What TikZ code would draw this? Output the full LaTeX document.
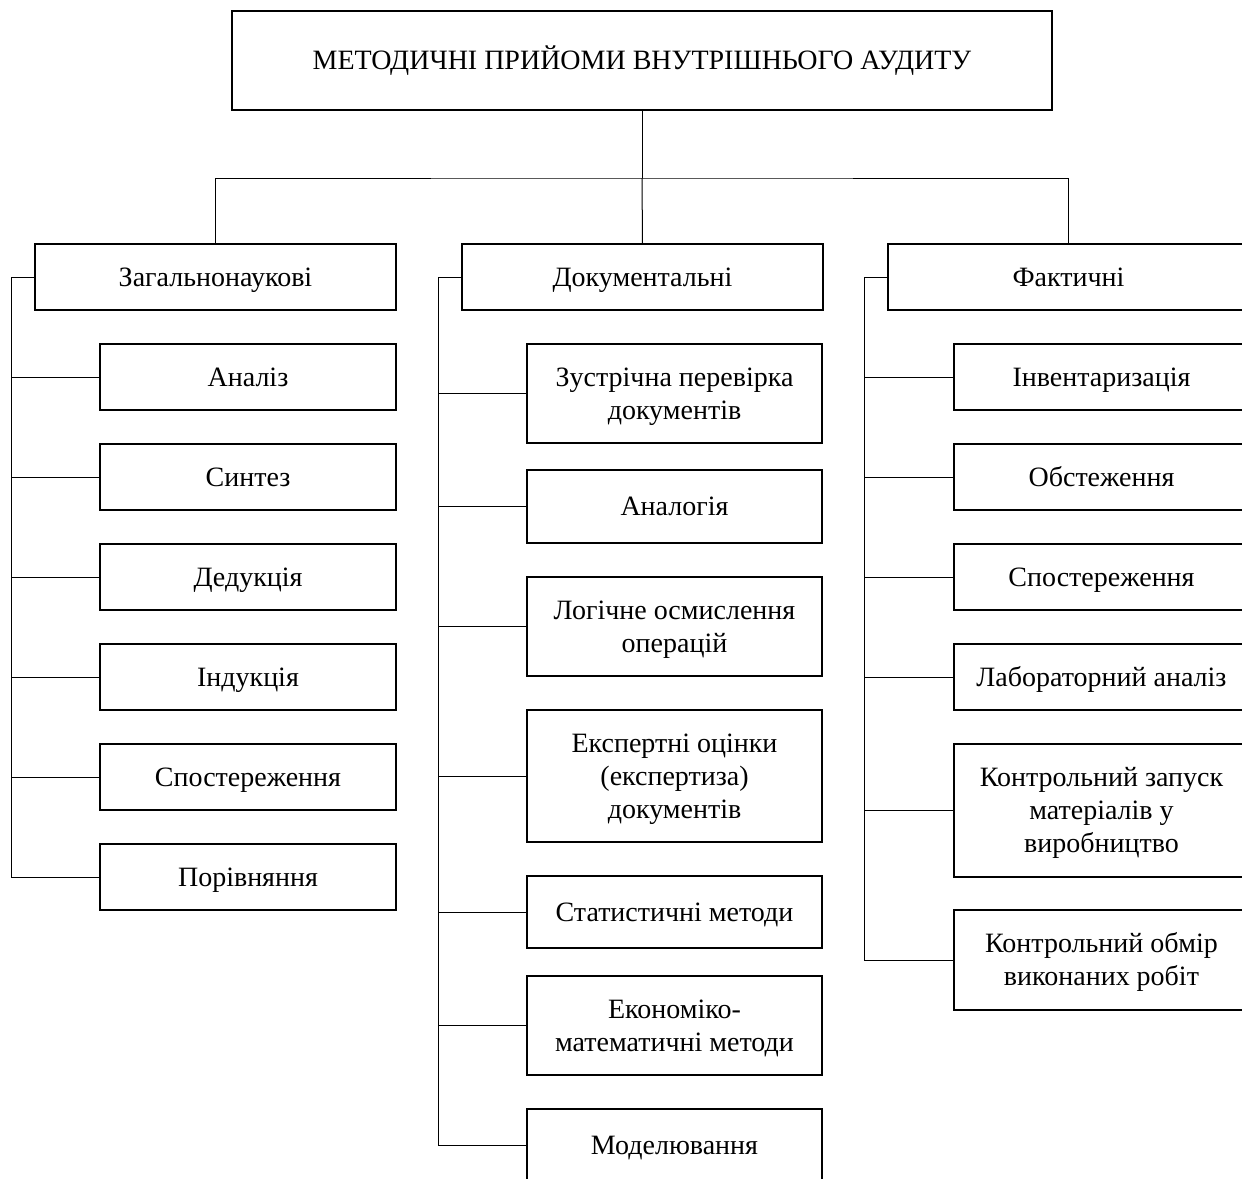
\documentclass[tikz,border=0pt]{standalone}
\usepackage{fontspec}
\setmainfont{Liberation Serif}
\usepackage{tikz}
\usetikzlibrary{positioning}

\newcommand{\toprl}{\rule{0pt}{13pt}}

\begin{document}
\begin{tikzpicture}[x=0.5pt,y=-0.5pt,node distance=17pt,
  box/.style={draw,rectangle,line width=0.8pt,align=center,inner sep=0pt,outer sep=0pt,
    font=\fontsize{14pt}{16.5pt}\selectfont,
    execute at begin node={\rule{0pt}{13pt}},execute at end node={\rule[-3.7pt]{0pt}{3.7pt}}},
  head/.style={box,minimum width=180.5pt,minimum height=33pt,anchor=north west},
  item/.style={box,minimum width=147.5pt,minimum height=33pt},
  line/.style={line width=0.5pt}]
\useasboundingbox (0,0) rectangle (1242,1178);

\node[box,minimum width=410pt,minimum height=49.5pt,anchor=north west] (T) at (232,11) {МЕТОДИЧНІ ПРИЙОМИ ВНУТРІШНЬОГО АУДИТУ};

\node[head] (G) at (35,244) {Загальнонаукові};
\node[head] (D) at (462,244) {Документальні};
\node[head] (F) at (888,244) {Фактичні};

\node[item,minimum width=148pt,anchor=north west] (G1) at (100,344) {Аналіз};
\node[item,minimum width=148pt] (G2) [below=of G1] {Синтез};
\node[item,minimum width=148pt] (G3) [below=of G2] {Дедукція};
\node[item,minimum width=148pt] (G4) [below=of G3] {Індукція};
\node[item,minimum width=148pt] (G5) [below=of G4] {Спостереження};
\node[item,minimum width=148pt] (G6) [below=of G5] {Порівняння};

\node[item,minimum height=49.5pt,anchor=north west] (D1) at (527,344) {\toprl Зустрічна перевірка\\документів};
\node[item,minimum height=36.5pt] (D2) [below=13.5pt of D1] {Аналогія};
\node[item,minimum height=49.5pt] (D3) [below=of D2] {\toprl Логічне осмислення\\операцій};
\node[item,minimum height=66pt] (D4) [below=of D3] {\toprl Експертні оцінки\\(експертиза)\\документів};
\node[item,minimum height=36pt] (D5) [below=of D4] {Статистичні методи};
\node[item,minimum height=49.5pt] (D6) [below=14pt of D5] {\toprl Економіко-\\математичні методи};
\node[item,minimum height=36.5pt] (D7) [below=of D6] {Моделювання};

\node[item,anchor=north west] (F1) at (954,344) {Інвентаризація};
\node[item] (F2) [below=of F1] {Обстеження};
\node[item] (F3) [below=of F2] {Спостереження};
\node[item] (F4) [below=of F3] {Лабораторний аналіз};
\node[item,minimum height=66.5pt] (F5) [below=of F4] {\toprl Контрольний запуск\\матеріалів у\\виробництво};
\node[item,minimum height=50pt] (F6) [below=16.5pt of F5] {\toprl Контрольний обмір\\виконаних робіт};

\draw[line] (T.south) -- ++(0,68) coordinate (bus);
\draw[line] (G.north) |- (bus) -| (F.north);
\draw[line] (bus) -- (D.north);

\draw[line] (G.west) -- ++(-24,0) coordinate (g0) |- (G6.west);
\foreach \n in {1,...,5} \draw[line] (G\n.west) -- (G\n.west -| g0);

\draw[line] (D.west) -- ++(-24,0) coordinate (d0) |- (D7.west);
\foreach \n in {1,...,6} \draw[line] (D\n.west) -- (D\n.west -| d0);

\draw[line] (F.west) -- ++(-24,0) coordinate (f0) |- (F6.west);
\foreach \n in {1,...,5} \draw[line] (F\n.west) -- (F\n.west -| f0);

\end{tikzpicture}
\end{document}
